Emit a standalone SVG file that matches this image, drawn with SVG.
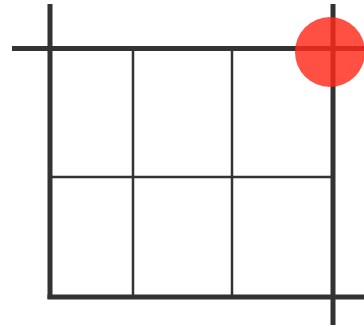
<svg xmlns="http://www.w3.org/2000/svg" width="364" height="327" viewBox="0 0 364 327">
<style>
.bold{stroke:#333;stroke-width:5;fill:none}
.thin{stroke:#333;stroke-width:2.5;fill:none}
</style>
<rect width="364" height="327" fill="#fff"/>
<g id="connectors">
<line class="thin" x1="133" y1="48" x2="133" y2="297"/>
<line class="thin" x1="232" y1="48" x2="232" y2="297"/>
<line class="thin" x1="50" y1="177" x2="333" y2="177"/>
<line class="bold" x1="12" y1="48.5" x2="364" y2="48.5"/>
<line class="bold" x1="50" y1="4" x2="50" y2="299"/>
<line class="bold" x1="333" y1="4" x2="333" y2="325"/>
<line class="bold" x1="47.5" y1="297" x2="364" y2="297"/>
</g>
<g id="point">
<circle cx="330" cy="52" r="35" fill="#ff2a1a" fill-opacity="0.82"/>
</g>
</svg>
